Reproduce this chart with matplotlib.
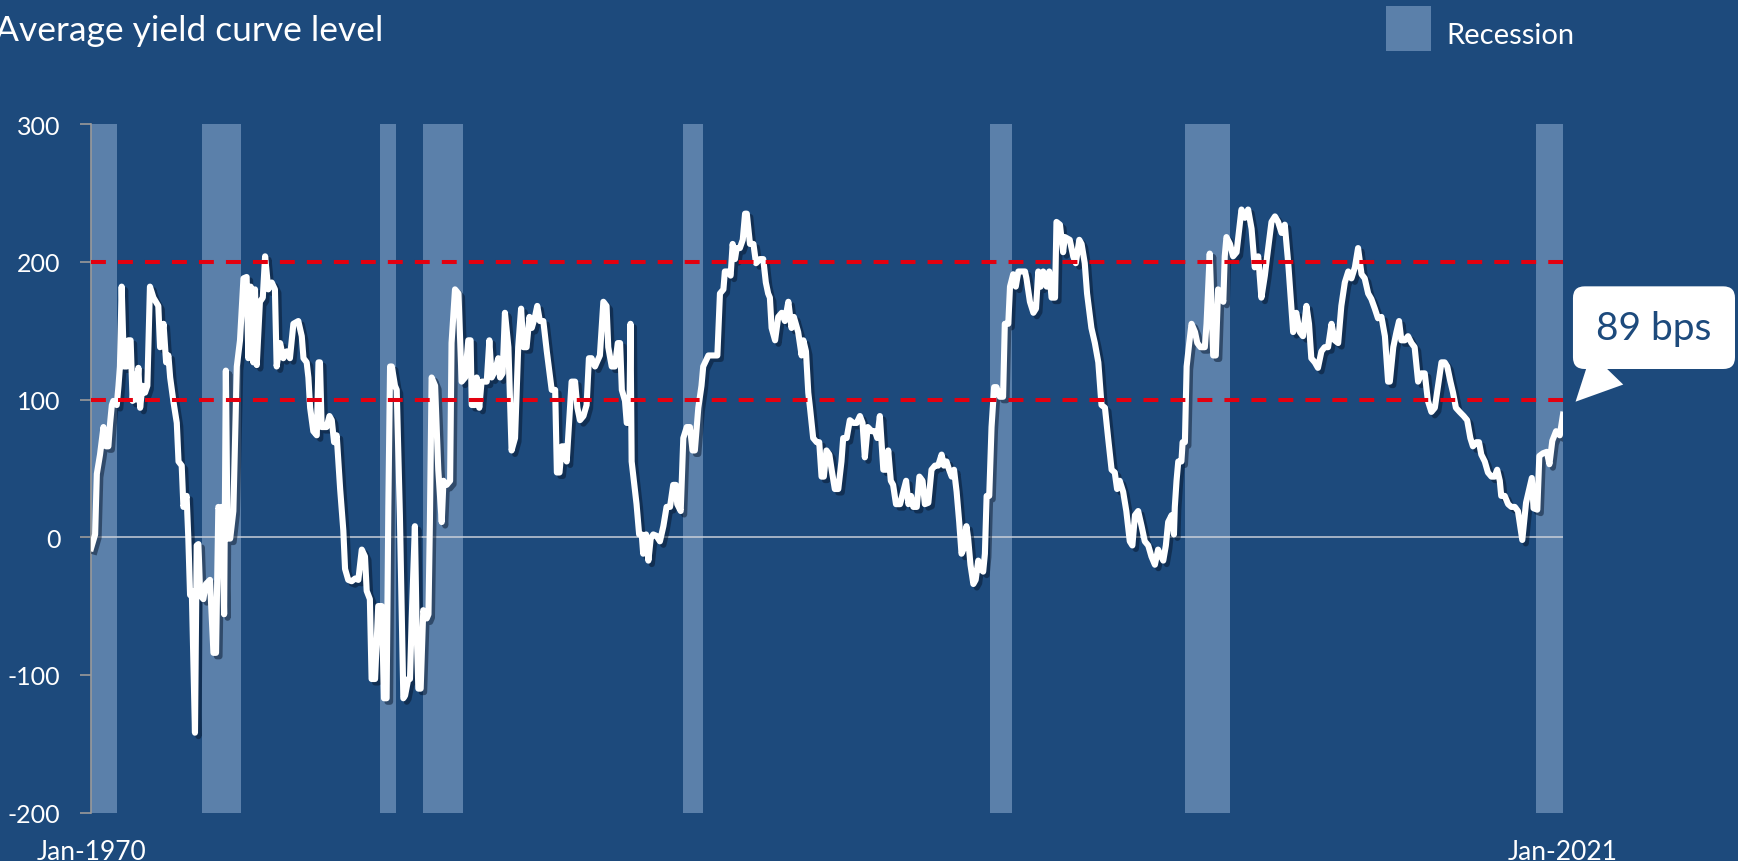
import matplotlib.pyplot as plt
from matplotlib import patheffects as pe
from matplotlib.patches import Rectangle

plt.rcParams['font.family'] = ['Lato', 'DejaVu Sans']
plt.rcParams['axes.unicode_minus'] = False

# Average yield curve level (bps)
years = [
    1970.00, 1970.14, 1970.20, 1970.31, 1970.43, 1970.52, 1970.60, 1970.66, 1970.72, 1970.77,
    1970.89, 1970.95, 1971.00, 1971.06, 1971.14, 1971.24, 1971.29, 1971.37, 1971.44, 1971.50,
    1971.56, 1971.64, 1971.70, 1971.78, 1971.87, 1971.95, 1972.04, 1972.16, 1972.33, 1972.39,
    1972.51, 1972.60, 1972.68, 1972.74, 1972.85, 1972.97, 1973.03, 1973.14, 1973.20, 1973.31,
    1973.37, 1973.43, 1973.49, 1973.60, 1973.66, 1973.72, 1973.78, 1973.89, 1973.98, 1974.12,
    1974.24, 1974.33, 1974.41, 1974.47, 1974.53, 1974.61, 1974.67, 1974.73, 1974.82, 1974.93,
    1975.05, 1975.16, 1975.28, 1975.39, 1975.45, 1975.53, 1975.62, 1975.68, 1975.74, 1975.85,
    1975.95, 1976.03, 1976.14, 1976.26, 1976.37, 1976.43, 1976.55, 1976.66, 1976.78, 1976.89,
    1977.01, 1977.18, 1977.30, 1977.36, 1977.47, 1977.53, 1977.59, 1977.70, 1977.82, 1977.88,
    1977.93, 1977.99, 1978.16, 1978.26, 1978.34, 1978.42, 1978.51, 1978.63, 1978.74, 1978.80,
    1978.91, 1979.03, 1979.15, 1979.26, 1979.38, 1979.49, 1979.55, 1979.66, 1979.72, 1979.84,
    1979.95, 1980.07, 1980.15, 1980.24, 1980.30, 1980.36, 1980.42, 1980.53, 1980.59, 1980.70,
    1980.82, 1980.88, 1980.99, 1981.05, 1981.11, 1981.22, 1981.28, 1981.34, 1981.42, 1981.51,
    1981.63, 1981.69, 1981.74, 1981.80, 1981.92, 1982.03, 1982.15, 1982.21, 1982.32, 1982.44,
    1982.49, 1982.61, 1982.73, 1982.84, 1982.96, 1983.07, 1983.15, 1983.19, 1983.30, 1983.36,
    1983.45, 1983.53, 1983.71, 1983.80, 1983.88, 1984.00, 1984.11, 1984.17, 1984.26, 1984.34,
    1984.46, 1984.57, 1984.69, 1984.80, 1984.90, 1984.98, 1985.09, 1985.19, 1985.27, 1985.38,
    1985.46, 1985.55, 1985.67, 1985.79, 1985.96, 1986.08, 1986.14, 1986.23, 1986.31, 1986.39,
    1986.48, 1986.65, 1986.77, 1986.85, 1986.94, 1987.06, 1987.17, 1987.25, 1987.34, 1987.46,
    1987.63, 1987.75, 1987.86, 1987.92, 1988.04, 1988.15, 1988.25, 1988.33, 1988.39, 1988.50,
    1988.56, 1988.65, 1988.69, 1988.73, 1988.90, 1988.99, 1989.08, 1989.13, 1989.23, 1989.31,
    1989.39, 1989.48, 1989.59, 1989.71, 1989.83, 1989.94, 1990.06, 1990.17, 1990.26, 1990.31,
    1990.43, 1990.52, 1990.64, 1990.75, 1990.84, 1990.92, 1991.04, 1991.15, 1991.21, 1991.39,
    1991.56, 1991.70, 1991.79, 1991.91, 1991.96, 1992.08, 1992.16, 1992.23, 1992.31, 1992.37,
    1992.48, 1992.58, 1992.66, 1992.72, 1992.83, 1992.95, 1993.04, 1993.18, 1993.29, 1993.38,
    1993.46, 1993.52, 1993.58, 1993.70, 1993.81, 1993.93, 1994.04, 1994.16, 1994.27, 1994.35,
    1994.50, 1994.62, 1994.68, 1994.77, 1994.85, 1994.91, 1995.02, 1995.14, 1995.23, 1995.31,
    1995.39, 1995.48, 1995.58, 1995.66, 1995.77, 1995.89, 1996.00, 1996.06, 1996.18, 1996.29,
    1996.41, 1996.53, 1996.64, 1996.73, 1996.81, 1996.91, 1997.05, 1997.16, 1997.24, 1997.33,
    1997.45, 1997.56, 1997.62, 1997.71, 1997.79, 1997.89, 1998.03, 1998.14, 1998.24, 1998.32,
    1998.41, 1998.49, 1998.61, 1998.70, 1998.81, 1998.89, 1999.01, 1999.12, 1999.24, 1999.35,
    1999.47, 1999.55, 1999.64, 1999.73, 1999.82, 1999.90, 1999.99, 2000.08, 2000.16, 2000.22,
    2000.33, 2000.39, 2000.47, 2000.57, 2000.65, 2000.74, 2000.82, 2000.91, 2000.97, 2001.03,
    2001.12, 2001.20, 2001.29, 2001.37, 2001.49, 2001.60, 2001.66, 2001.78, 2001.84, 2001.95,
    2002.04, 2002.13, 2002.24, 2002.36, 2002.41, 2002.53, 2002.65, 2002.74, 2002.82, 2002.90,
    2002.99, 2003.11, 2003.20, 2003.28, 2003.40, 2003.45, 2003.57, 2003.68, 2003.74, 2003.91,
    2004.03, 2004.12, 2004.24, 2004.32, 2004.43, 2004.51, 2004.66, 2004.78, 2004.90, 2005.01,
    2005.13, 2005.24, 2005.36, 2005.47, 2005.55, 2005.64, 2005.76, 2005.87, 2005.99, 2006.08,
    2006.17, 2006.28, 2006.40, 2006.51, 2006.63, 2006.74, 2006.86, 2006.97, 2007.03, 2007.15,
    2007.24, 2007.32, 2007.44, 2007.52, 2007.55, 2007.61, 2007.67, 2007.78, 2007.82, 2007.90,
    2007.96, 2008.05, 2008.13, 2008.25, 2008.33, 2008.44, 2008.59, 2008.65, 2008.76, 2008.88,
    2008.97, 2009.05, 2009.17, 2009.23, 2009.28, 2009.34, 2009.46, 2009.57, 2009.69, 2009.75,
    2009.86, 2009.98, 2010.09, 2010.21, 2010.32, 2010.44, 2010.55, 2010.67, 2010.75, 2010.90,
    2011.02, 2011.13, 2011.25, 2011.36, 2011.48, 2011.59, 2011.65, 2011.76, 2011.88, 2011.99,
    2012.11, 2012.20, 2012.28, 2012.40, 2012.51, 2012.63, 2012.74, 2012.86, 2012.98, 2013.09,
    2013.21, 2013.32, 2013.44, 2013.56, 2013.67, 2013.79, 2013.90, 2014.02, 2014.13, 2014.25,
    2014.36, 2014.48, 2014.59, 2014.71, 2014.83, 2014.94, 2015.00, 2015.12, 2015.23, 2015.32,
    2015.40, 2015.52, 2015.63, 2015.75, 2015.86, 2015.98, 2016.09, 2016.21, 2016.32, 2016.44,
    2016.56, 2016.67, 2016.79, 2016.90, 2016.99, 2017.10, 2017.19, 2017.29, 2017.42, 2017.56,
    2017.68, 2017.79, 2017.88, 2018.00, 2018.09, 2018.17, 2018.29, 2018.40, 2018.52, 2018.63,
    2018.72, 2018.81, 2018.86, 2018.98, 2019.10, 2019.21, 2019.33, 2019.44, 2019.59, 2019.72,
    2019.92, 2019.98, 2020.11, 2020.18, 2020.31, 2020.44, 2020.53, 2020.63, 2020.76, 2020.89,
    2021.00,
]
spread = [
    -8, 2, 46, 60, 80, 66, 66, 83, 96, 99,
    96, 110, 124, 182, 124, 124, 143, 143, 99, 118,
    100, 123, 94, 110, 105, 110, 182, 174, 168, 138,
    155, 127, 132, 116, 99, 83, 55, 52, 22, 30,
    -1, -42, -39, -142, -6, -5, -42, -45, -34, -31,
    -84, -84, 22, 19, 22, -56, 121, -1, -1, 19,
    124, 143, 188, 189, 130, 182, 127, 180, 125, 171,
    174, 204, 180, 185, 180, 124, 141, 130, 135, 130,
    155, 157, 146, 130, 127, 116, 94, 77, 74, 127,
    127, 80, 80, 88, 85, 69, 74, 35, 5, -23,
    -31, -32, -30, -31, -9, -14, -39, -45, -103, -103,
    -50, -50, -117, -117, 22, 124, 124, 110, 107, 16,
    -117, -115, -103, -103, -59, 8, -67, -110, -110, -53,
    -59, -56, 11, 116, 110, 49, 11, 41, 38, 41,
    141, 180, 177, 113, 116, 143, 143, 96, 96, 116,
    94, 113, 113, 143, 116, 121, 130, 116, 119, 163,
    138, 63, 72, 138, 166, 138, 138, 160, 152, 160,
    168, 157, 157, 135, 107, 107, 47, 47, 66, 66,
    55, 113, 113, 94, 85, 88, 96, 130, 130, 124,
    132, 171, 168, 138, 124, 124, 141, 141, 107, 99,
    83, 83, 155, 55, 24, 2, 2, -12, 2, -17,
    -1, 2, 1, -3, 8, 22, 22, 38, 38, 24,
    19, 72, 80, 80, 63, 63, 94, 110, 124, 132,
    132, 132, 177, 180, 193, 193, 190, 213, 202, 210,
    210, 216, 235, 235, 213, 213, 199, 202, 202, 185,
    177, 174, 152, 143, 160, 163, 157, 171, 152, 160,
    149, 132, 143, 135, 105, 94, 72, 69, 69, 44,
    44, 63, 60, 49, 35, 35, 55, 72, 72, 85,
    83, 83, 88, 83, 58, 80, 77, 77, 72, 88,
    49, 49, 63, 41, 38, 24, 24, 33, 41, 24,
    30, 22, 22, 44, 41, 24, 25, 49, 52, 52,
    60, 52, 55, 49, 44, 49, 33, 11, -12, -9,
    8, -1, -20, -34, -31, -17, -23, -25, -12, 30,
    30, 80, 109, 109, 102, 102, 155, 155, 182, 191,
    182, 193, 193, 193, 188, 171, 163, 166, 193, 182,
    193, 182, 193, 174, 174, 229, 227, 207, 218, 216,
    204, 199, 216, 213, 199, 177, 152, 141, 127, 96,
    94, 72, 49, 47, 35, 41, 33, 19, -3, -6,
    16, 19, 8, -3, -6, -14, -20, -9, -12, -17,
    -6, 11, 16, 2, 22, 41, 55, 55, 69, 69,
    124, 141, 155, 149, 141, 138, 138, 155, 206, 132,
    132, 180, 177, 171, 204, 218, 213, 204, 207, 218,
    238, 232, 238, 224, 196, 204, 174, 190, 204, 229,
    233, 229, 221, 227, 199, 166, 149, 163, 149, 146,
    168, 155, 130, 127, 123, 135, 138, 138, 155, 143,
    141, 168, 185, 193, 188, 196, 210, 191, 188, 177,
    173, 166, 159, 160, 146, 113, 113, 138, 149, 157,
    143, 143, 146, 141, 138, 113, 119, 119, 99, 91,
    94, 110, 127, 127, 124, 113, 105, 94, 91, 88,
    85, 72, 66, 69, 69, 60, 55, 47, 44, 44,
    49, 41, 30, 30, 24, 22, 22, 19, -2, 25,
    43, 21, 20, 59, 61, 62, 53, 70, 77, 74,
    89,
]

# NBER-style recession windows (decimal years)
recession_start = [1970.0, 1973.83, 1980.0, 1981.5, 1990.5, 2001.15, 2007.9, 2020.05]
recession_end = [1970.9, 1975.2, 1980.55, 1982.9, 1991.2, 2001.9, 2009.45, 2021.0]
thresholds = [100, 200]
x_ticks = [1970, 2021]
x_labels = ['Jan-1970', 'Jan-2021']

bg = '#1d4a7c'
band = '#5b80aa'
red = '#e3000f'
W, H = 1738, 862

fig = plt.figure(figsize=(W / 100, H / 100), dpi=100, facecolor=bg)
ax = fig.add_axes([0.0524, 0.0562, 0.8469, 0.7986])
ax.set_facecolor(bg)

for s, e in zip(recession_start, recession_end):
    ax.axvspan(s, e, color=band, lw=0, zorder=1)

ax.axhline(0, color='#c9cfd8', lw=1.1, zorder=2)
ax.plot(years, spread, color='white', lw=4.4, solid_joinstyle='round', zorder=3,
        path_effects=[pe.SimpleLineShadow(offset=(2.5, -2.5), shadow_color='#06162b', alpha=0.5),
                      pe.Normal()])
for t in thresholds:
    ax.axhline(t, color=red, lw=2.9, dashes=(3.7, 3.0), zorder=4)

ax.set_xlim(1970, 2021)
ax.set_ylim(-200, 300)
ax.set_yticks([-200, -100, 0, 100, 200, 300])
ax.set_xticks(x_ticks)
ax.set_xticklabels(x_labels)
for side in ['top', 'right', 'bottom']:
    ax.spines[side].set_visible(False)
ax.spines['left'].set_color('#9a9a9a')
ax.spines['left'].set_linewidth(1.2)
ax.tick_params(axis='y', colors='#9a9a9a', length=8, width=1.2,
               labelcolor='white', labelsize=18, pad=14)
ax.tick_params(axis='x', length=0, labelcolor='white', labelsize=19, pad=19)

# title (runs off the left edge, as in the original)
fig.text(-0.003, 1 - 41 / H, 'Average yield curve level', fontsize=25.5,
         color='white', ha='left', va='baseline')

# legend swatch + label
fig.add_artist(Rectangle((1386 / W, 1 - 52 / H), 45 / W, 45 / H,
                         transform=fig.transFigure, color=band, lw=0))
fig.text(1446 / W, 1 - 44 / H, 'Recession', fontsize=21, color='white',
         ha='left', va='baseline')

ax.annotate(f'{spread[-1]:.0f} bps', xy=(years[-1], spread[-1]), xytext=(91, 87),
            textcoords='offset pixels', ha='center', va='center', fontsize=28, color=bg,
            bbox=dict(boxstyle='round,pad=0.6,rounding_size=0.3', fc='white', ec='none'),
            arrowprops=dict(arrowstyle='wedge,tail_width=1.15', fc='white', ec='none',
                            relpos=(0.29, 0), shrinkA=0, shrinkB=13),
            annotation_clip=False, zorder=6)

fig.savefig('out.png', dpi=100, facecolor=bg)
